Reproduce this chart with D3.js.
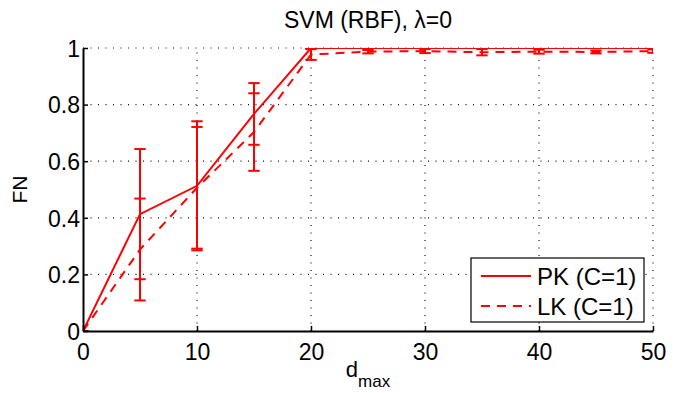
<!DOCTYPE html>
<html>
<head>
<meta charset="utf-8">
<script src="https://cdn.jsdelivr.net/npm/d3@7"></script>
<style>
  body { margin: 0; background: #fff; }
  text { font-family: "Liberation Sans", Arial, Helvetica, sans-serif; fill: #000; }
</style>
</head>
<body>
<div id="chart"></div>
<script>
// data
const dmax = [0, 5, 10, 15, 20, 25, 30, 35, 40, 45, 50];
const pkMean = [0, 0.413, 0.513, 0.767, 1, 1, 1, 1, 1, 1, 1];
const pkErr = [0, 0.23, 0.228, 0.109, 0, 0, 0, 0, 0, 0, 0];
const lkMean = [0, 0.288, 0.506, 0.703, 0.977, 0.987, 0.989, 0.985, 0.987, 0.986, 0.989];
const lkErr = [0, 0.18, 0.215, 0.137, 0.019, 0.006, 0.007, 0.011, 0.007, 0.005, 0.006];
const xTicks = [0, 10, 20, 30, 40, 50];
const yTicks = [0, 0.2, 0.4, 0.6, 0.8, 1];
const seriesNames = ['PK (C=1)', 'LK (C=1)'];

const W = 673, H = 393;
const margin = { t: 48, r: 20, b: 62, l: 83 };
const red = '#ff0000';

const scaleX = d3.scaleLinear().domain([0, 50]).range([margin.l, W - margin.r]);
const scaleY = d3.scaleLinear().domain([0, 1]).range([H - margin.b, margin.t]);

const svg = d3.select('#chart').append('svg')
  .attr('width', W)
  .attr('height', H);

svg.append('defs').append('clipPath')
  .attr('id', 'clip')
  .append('rect')
  .attr('x', scaleX(0))
  .attr('y', scaleY(1))
  .attr('width', scaleX(50) - scaleX(0))
  .attr('height', scaleY(0) - scaleY(1));

// grid
const grid = svg.append('g').attr('class', 'grid');
grid.selectAll('line.gx')
  .data(xTicks.slice(1))
  .join('line')
  .attr('x1', d => scaleX(d)).attr('x2', d => scaleX(d))
  .attr('y1', scaleY(0)).attr('y2', scaleY(1))
  .attr('stroke', '#111')
  .attr('stroke-width', 1.2)
  .attr('stroke-dasharray', '1,6.5');
grid.selectAll('line.gy')
  .data(yTicks.slice(1))
  .join('line')
  .attr('x1', scaleX(0)).attr('x2', scaleX(50))
  .attr('y1', d => scaleY(d)).attr('y2', d => scaleY(d))
  .attr('stroke', '#111')
  .attr('stroke-width', 1.2)
  .attr('stroke-dasharray', '1,6.5');

// series
const series = [
  { mean: pkMean, err: pkErr, dash: null },
  { mean: lkMean, err: lkErr, dash: '9,7' }
];

const plot = svg.append('g').attr('clip-path', 'url(#clip)');
const line = d3.line().x((d, i) => scaleX(dmax[i])).y(d => scaleY(d));
const capHalf = (scaleX(1) - scaleX(0)) / 2;

series.forEach(s => {
  const eb = plot.append('g');
  dmax.forEach((x, i) => {
    const px = scaleX(x);
    const lo = scaleY(s.mean[i] - s.err[i]);
    const hi = scaleY(s.mean[i] + s.err[i]);
    eb.append('line')
      .attr('x1', px).attr('x2', px).attr('y1', lo).attr('y2', hi)
      .attr('stroke', red).attr('stroke-width', 2);
    [lo, hi].forEach(y => {
      eb.append('line')
        .attr('x1', px - capHalf).attr('x2', px + capHalf)
        .attr('y1', y).attr('y2', y)
        .attr('stroke', red).attr('stroke-width', 2);
    });
  });
  plot.append('path')
    .datum(s.mean)
    .attr('fill', 'none')
    .attr('stroke', red)
    .attr('stroke-width', 2)
    .attr('stroke-dasharray', s.dash)
    .attr('d', line);
});

// axes (left and bottom only, ticks inward)
const xAxis = d3.axisBottom(scaleX).tickValues(xTicks).tickSizeInner(-5).tickSizeOuter(0).tickPadding(13);
const yAxis = d3.axisLeft(scaleY).tickValues(yTicks).tickSizeInner(-5).tickSizeOuter(0).tickPadding(3)
  .tickFormat(d => d === 0 || d === 1 ? String(d) : d3.format('.1f')(d));

const gx = svg.append('g')
  .attr('transform', `translate(0, ${scaleY(0)})`)
  .call(xAxis);
const gy = svg.append('g')
  .attr('transform', `translate(${scaleX(0)}, 0)`)
  .call(yAxis);

[gx, gy].forEach(g => {
  g.select('.domain').attr('stroke', '#000').attr('stroke-width', 2);
  g.selectAll('.tick line').attr('stroke', '#000').attr('stroke-width', 1.5);
  g.selectAll('.tick text')
    .style('font-family', '"Liberation Sans", Arial, sans-serif')
    .style('font-size', '23px')
    .attr('fill', '#000');
});
gy.selectAll('.tick text').attr('dy', '0.36em');

// title
svg.append('text')
  .attr('x', (scaleX(0) + scaleX(50)) / 2)
  .attr('y', 28)
  .attr('text-anchor', 'middle')
  .style('font-size', '23px')
  .text('SVM (RBF), λ=0');

// y label
svg.append('text')
  .attr('transform', `translate(27, ${(scaleY(0) + scaleY(1)) / 2}) rotate(-90)`)
  .attr('text-anchor', 'middle')
  .style('font-size', '21px')
  .text('FN');

// x label
const xl = svg.append('text')
  .attr('x', (scaleX(0) + scaleX(50)) / 2)
  .attr('y', 377)
  .attr('text-anchor', 'middle')
  .style('font-size', '22px');
xl.append('tspan').text('d');
xl.append('tspan').attr('dy', 10).style('font-size', '17px').text('max');

// legend
const legend = svg.append('g').attr('transform', 'translate(471, 258)');
legend.append('rect')
  .attr('width', 173).attr('height', 64)
  .attr('fill', '#fff').attr('stroke', '#000').attr('stroke-width', 1.2);
seriesNames.forEach((name, i) => {
  const y = 18 + i * 30;
  legend.append('line')
    .attr('x1', 10).attr('x2', 60).attr('y1', y).attr('y2', y)
    .attr('stroke', red).attr('stroke-width', 2)
    .attr('stroke-dasharray', series[i].dash);
  legend.append('text')
    .attr('x', 66).attr('y', y).attr('dy', '0.36em')
    .style('font-size', '24px')
    .text(name);
});
</script>
</body>
</html>
